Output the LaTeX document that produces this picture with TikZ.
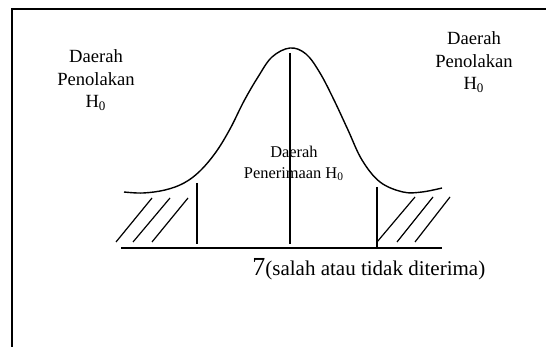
\documentclass[tikz,border=0pt]{standalone}
\usepackage{fontspec}
\setmainfont{Liberation Serif}
\usetikzlibrary{positioning}

\begin{document}
\begin{tikzpicture}[
    x=0.5pt, y=-0.5pt,
    region/.style={align=center, inner sep=0pt, font=\fontsize{9.3}{11.3}\selectfont},
    accept/.style={align=center, inner sep=0pt, font=\fontsize{8.2}{10.5}\selectfont},
    frame/.style={line width=1.1pt},
    curve/.style={line width=0.7pt},
    hatch/.style={line width=0.6pt}
]
    \useasboundingbox (0,0) rectangle (546,347);

    % Frame
    \draw[frame] (12,347) -- (12,9) -- (546,9);

    % Normal curve
    \draw[curve] plot[smooth, tension=0.6] coordinates {
        (124,192) (143,193) (165,190) (184,183) (200,171) (216,152)
        (230,129) (244,101) (258,77) (272,57) (290,48) (306,54)
        (320,73) (334,100) (348,130) (362,160) (380,182) (403,192)
        (422,192) (442,188)};

    % Axis and critical lines
    \draw[curve] (121,248) -- (442,248);
    \draw[curve] (290,53) -- (290,244);
    \draw[curve] (197,183) -- (197,244);
    \draw[curve] (377,187) -- (377,248);

    % Rejection hatching
    \draw[hatch] (116,242) -- (152,198);
    \draw[hatch] (133,242) -- (170,198);
    \draw[hatch] (152,242) -- (188,198);
    \draw[hatch] (377,242) -- (415,197);
    \draw[hatch] (397,242) -- (433,197);
    \draw[hatch] (415,242) -- (450,197);

    % Labels
    \node[region] (rejleft) at (96,80) {Daerah\\Penolakan\\H\textsubscript{0}};
    \node[region] (rejright) at (474,62) {Daerah\\Penolakan\\H\textsubscript{0}};
    \node[accept] (accmid) at (294,163) {Daerah\\Penerimaan H\textsubscript{0}};
    \node[anchor=base west, inner sep=0pt] (result) at (252,276)
        {{\fontsize{13}{13}\selectfont 7}{\fontsize{10.5}{12}\selectfont(salah atau tidak diterima)}};
\end{tikzpicture}
\end{document}
